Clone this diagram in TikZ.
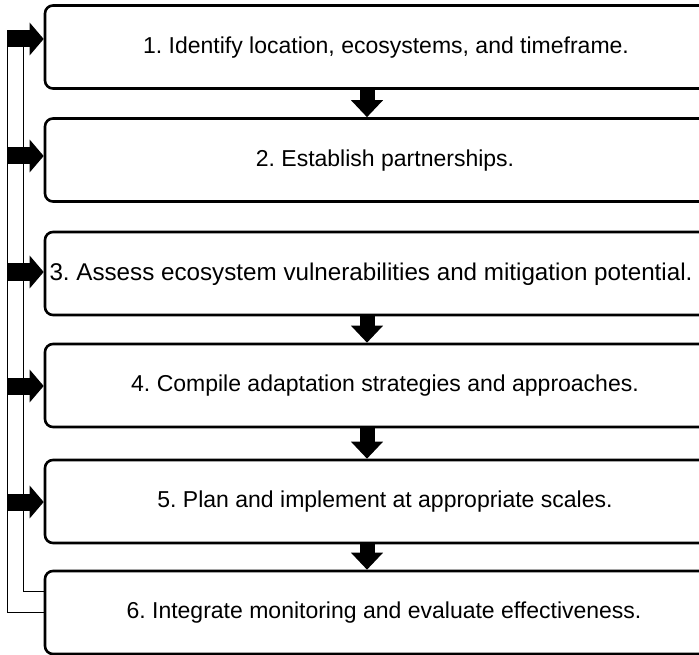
\documentclass[tikz,border=0pt]{standalone}
\usepackage{fontspec}
\setmainfont{Liberation Sans}
\usetikzlibrary{arrows.meta}
\begin{document}
\frenchspacing
\begin{tikzpicture}[x=1pt,y=-1pt,
  box/.style={draw, line width=2.6pt, rounded corners=8pt, minimum width=682pt, minimum height=83pt, inner sep=0pt},
  txt/.style={font=\fontsize{23}{27}\selectfont, inner sep=0pt},
  downarr/.style={line width=15pt, -{Triangle[width=31pt,length=17pt]}},
  sidearr/.style={line width=17pt, -{Triangle[width=32pt,length=14pt]}},
  fbline/.style={draw, line width=0.9pt}]
\clip (0,0) rectangle (699,655);
\node[box] (b1) at (386,47) {};
\node[box] (b2) at (386,160) {};
\node[box] (b3) at (386,273.5) {};
\node[box] (b4) at (386,385.5) {};
\node[box] (b5) at (386,501.5) {};
\node[box] (b6) at (386,612.5) {};
\node[txt] (t1) at (386,48) {1. Identify location, ecosystems, and timeframe.};
\node[txt] (t2) at (385,161) {2. Establish partnerships.};
\node[txt, font=\fontsize{24.2}{28}\selectfont] (t3) at (371,274) {3. Assess ecosystem vulnerabilities and mitigation potential.};
\node[txt] (t4) at (385,386) {4. Compile adaptation strategies and approaches.};
\node[txt] (t5) at (385,502) {5. Plan and implement at appropriate scales.};
\node[txt] (t6) at (384,613) {6. Integrate monitoring and evaluate effectiveness.};
\draw[downarr] ([xshift=-19pt]b1.south) -- ([xshift=-19pt]b2.north);
\draw[downarr] ([xshift=-19pt]b3.south) -- ([xshift=-19pt]b4.north);
\draw[downarr] ([xshift=-19pt]b4.south) -- ([xshift=-19pt]b5.north);
\draw[downarr] ([xshift=-19pt]b5.south) -- ([xshift=-19pt]b6.north);
\coordinate (fo) at (7,47);
\coordinate (fi) at (23,47);
\draw[fbline] (fo) |- (b6.west);
\draw[fbline] (fi) |- ([yshift=21pt]b6.west);
\coordinate (s1) at (7,39);
\coordinate (s2) at (7,156);
\coordinate (s3) at (7,272);
\coordinate (s4) at (7,386);
\coordinate (s5) at (7,502);
\draw[sidearr] (s1) -- ([yshift=8pt]b1.west);
\draw[sidearr] (s2) -- ([yshift=4pt]b2.west);
\draw[sidearr] (s3) -- ([yshift=1.5pt]b3.west);
\draw[sidearr] (s4) -- ([yshift=-0.5pt]b4.west);
\draw[sidearr] (s5) -- ([yshift=-0.5pt]b5.west);
\end{tikzpicture}
\end{document}
